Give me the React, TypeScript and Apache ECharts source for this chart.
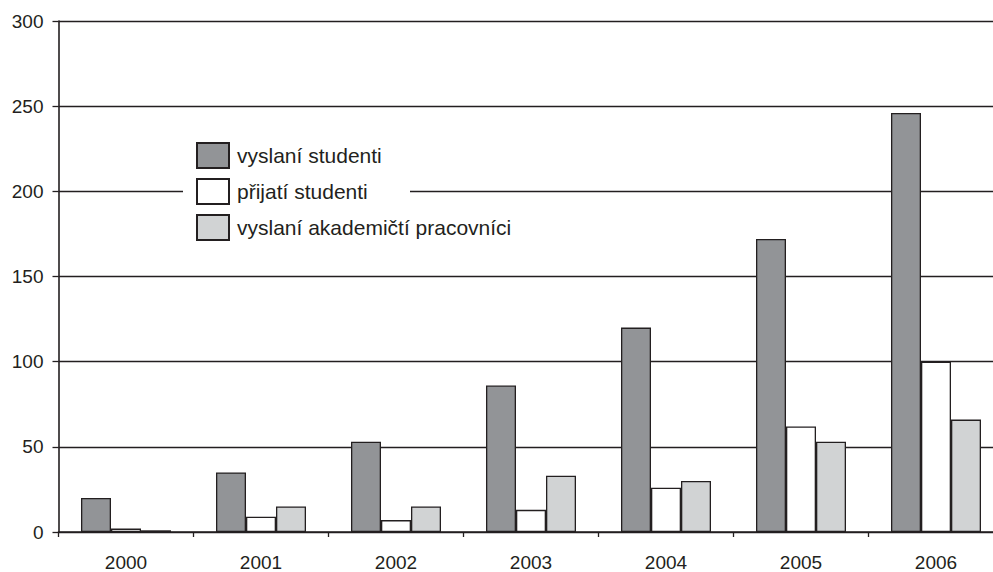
import React, { useEffect, useRef } from "react";
import * as echarts from "echarts";

const categories = ["2000", "2001", "2002", "2003", "2004", "2005", "2006"];
const seriesNames = ["vyslaní studenti", "přijatí studenti", "vyslaní akademičtí pracovníci"];
const sentStudents = [20, 35, 53, 86, 120, 172, 246];
const receivedStudents = [2, 9, 7, 13, 26, 62, 100];
const sentStaff = [1, 15, 15, 33, 30, 53, 66];

const INK = "#231f20";
const FONT = "Liberation Sans, Arial, sans-serif";

export default function App() {
  const ref = useRef<HTMLDivElement>(null);
  useEffect(() => {
    document.body.style.margin = "0";
    document.body.style.overflow = "hidden";
    const chart = echarts.init(ref.current!, undefined, { renderer: "svg" });
    const mk = (name: string, data: number[], color: string) => ({
      name,
      type: "bar",
      data,
      barWidth: 30,
      barGap: "0%",
      itemStyle: { color, borderColor: INK, borderWidth: 1.3 },
    });
    chart.setOption({
      animation: false,
      backgroundColor: "#ffffff",
      textStyle: { fontFamily: FONT, color: INK },
      grid: { left: 58.5, right: 6.5, top: 21, bottom: 40, containLabel: false },
      legend: {
        orient: "vertical",
        left: 196,
        top: 142,
        itemWidth: 32,
        itemHeight: 25,
        itemGap: 9,
        icon: "rect",
        padding: 0,
        textStyle: { fontSize: 21, lineHeight: 25, color: INK, fontFamily: FONT, padding: [0, 0, 0, 3] },
        data: seriesNames,
      },
      graphic: [
        {
          type: "rect",
          z: 1,
          shape: { x: 183, y: 184, width: 227, height: 14 },
          style: { fill: "#ffffff" },
        },
      ],
      xAxis: {
        type: "category",
        data: categories,
        axisLine: { lineStyle: { color: INK, width: 1.6 } },
        axisTick: { show: true, length: 5, interval: 0, lineStyle: { color: INK, width: 1.3 } },
        axisLabel: { fontSize: 19, color: INK, margin: 21, fontFamily: FONT },
        splitLine: { show: false },
      },
      yAxis: {
        type: "value",
        min: 0,
        max: 300,
        interval: 50,
        axisLine: { show: true, lineStyle: { color: INK, width: 1.6 } },
        axisTick: { show: true, length: 6, lineStyle: { color: INK, width: 1.3 } },
        axisLabel: { fontSize: 19, color: INK, margin: 15, fontFamily: FONT },
        splitLine: { show: true, lineStyle: { color: INK, width: 1.3 } },
      },
      series: [
        mk(seriesNames[0], sentStudents, "#929497"),
        mk(seriesNames[1], receivedStudents, "#ffffff"),
        mk(seriesNames[2], sentStaff, "#d1d3d4"),
      ],
    });
    return () => chart.dispose();
  }, []);
  return (
    <div style={{ width: 993, height: 572, overflow: "hidden" }}>
      <div ref={ref} style={{ width: 1010, height: 572 }} />
    </div>
  );
}
